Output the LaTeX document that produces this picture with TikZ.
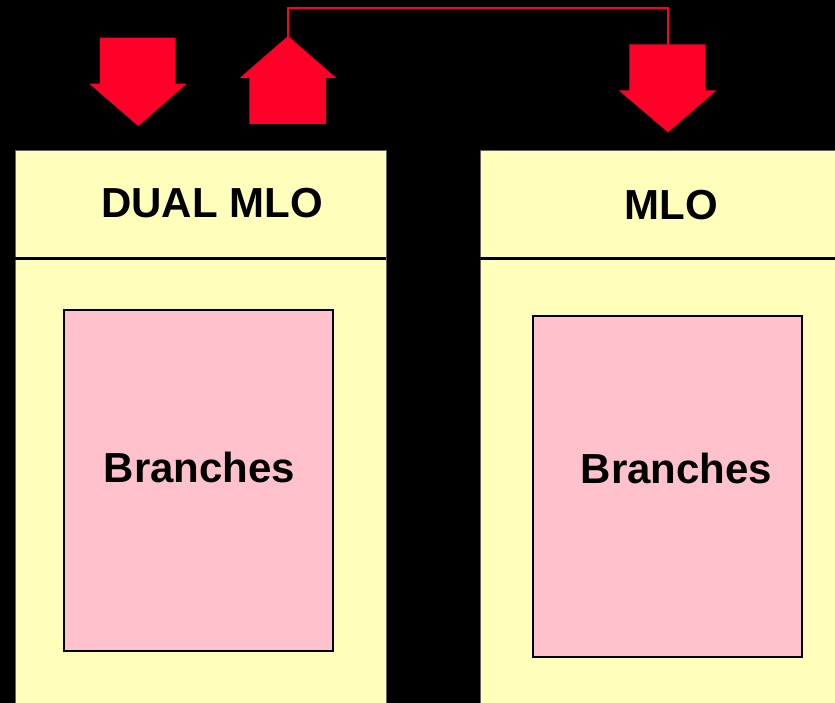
\documentclass[tikz,border=0pt]{standalone}
\usepackage{fontspec}
\setmainfont{Liberation Sans}
\definecolor{arrowred}{RGB}{255,0,40}
\definecolor{paleyellow}{RGB}{255,255,187}
\definecolor{pinkfill}{RGB}{255,194,204}
\begin{document}
\begin{tikzpicture}[x=1pt,y=-1pt,
  panel/.style={fill=paleyellow,draw=black!60,line width=0.8pt},
  divider/.style={draw=black,line width=3pt},
  branchbox/.style={fill=pinkfill,draw=black,line width=2.5pt},
  bigarrow/.style={fill=arrowred,draw=none},
  label/.style={font=\bfseries\fontsize{42}{42}\selectfont,inner sep=0pt,anchor=center},
  link/.style={draw=arrowred,line width=2pt}]
\fill[black] (0,0) rectangle (835,703);
\useasboundingbox (0,0) rectangle (835,703);
\begin{scope}
\clip (0,0) rectangle (835,703);
% panels
\draw[panel] (15,150) rectangle (386,710);
\draw[panel] (480,150) rectangle (845,710);
\draw[divider] (15,259) -- (386,259);
\draw[divider] (480,259) -- (845,259);
% branch boxes
\node[branchbox,minimum width=269pt,minimum height=341pt,inner sep=0pt] (bl) at (198.5,480.5) {};
\node[branchbox,minimum width=269pt,minimum height=341pt,inner sep=0pt] (br) at (667.5,486.5) {};
\node[label] (tl) at (212,203) {DUAL MLO};
\node[label] (tr) at (671.5,205) {MLO};
\node[label] (bll) at (199.5,467) {Branches};
\node[label] (brl) at (676.5,468) {Branches};
\end{scope}
% arrows
\fill[bigarrow] (100,37.7) -- (175.7,37.7) -- (175.7,83.7) -- (186.7,83.7) -- (138.3,126) -- (89.3,83.7) -- (100,83.7) -- cycle;
\fill[bigarrow] (249.3,124) -- (326,124) -- (326,78) -- (336.3,78) -- (288,36) -- (239.7,78) -- (249.3,78) -- cycle;
\fill[bigarrow] (629.3,44.3) -- (705.7,44.3) -- (705.7,90.3) -- (716.7,90.3) -- (668,132.3) -- (618.7,90.3) -- (629.3,90.3) -- cycle;
\coordinate (uptip) at (288,37);
\coordinate (rtop) at (668,45);
\draw[link] (uptip) -- (288,8.3) -| (rtop);
\end{tikzpicture}
\end{document}
